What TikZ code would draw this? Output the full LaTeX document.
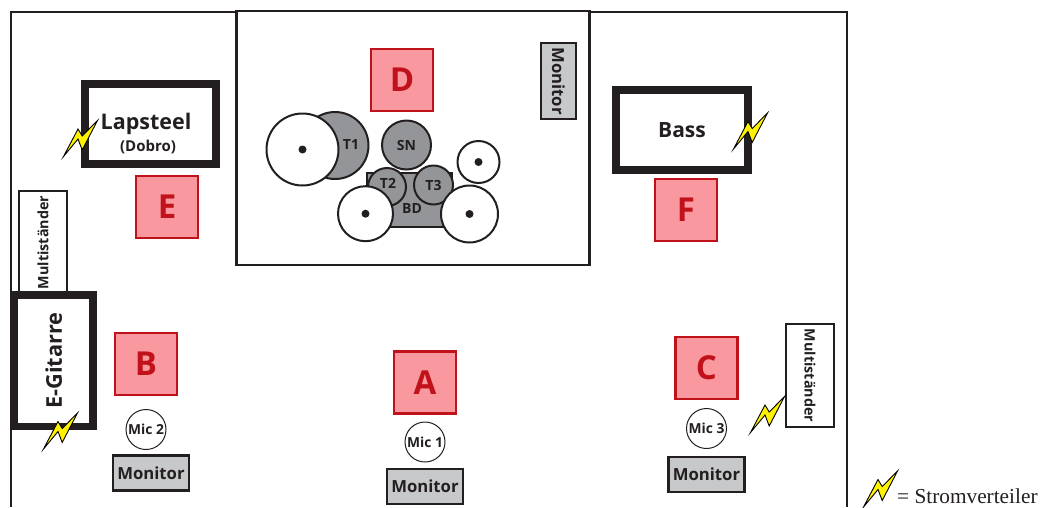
\documentclass[tikz,border=0pt]{standalone}
\usepackage{fontspec}
\setmainfont{Liberation Serif}
\setsansfont{Open Sans}
\usepackage{tikz}
\usetikzlibrary{positioning}
\definecolor{inkblack}{HTML}{231F20}
\definecolor{redfill}{HTML}{F9989F}
\definecolor{redline}{HTML}{C1121C}
\definecolor{drumgrey}{HTML}{939598}
\definecolor{mongrey}{HTML}{C7C8CA}
\definecolor{boltyellow}{HTML}{FFF200}
\newcommand{\sfb}[1]{\fontsize{#1}{#1}\selectfont\sffamily\bfseries}
\tikzset{person node/.style={rectangle,draw=redline,fill=redfill,line width=2.3pt,minimum size=62pt,inner sep=0pt,outer sep=0pt,text=redline,font=\sfb{33}},}
\tikzset{amp node/.style={rectangle,draw=inkblack,fill=white,line width=7.5pt,inner sep=0pt,outer sep=0pt,text=inkblack},}
\tikzset{stand node/.style={rectangle,draw=inkblack,fill=white,line width=2.2pt,minimum width=103pt,minimum height=48pt,inner sep=0pt,outer sep=0pt,text=inkblack,font=\sfb{14.3}},}
\tikzset{monitor node/.style={rectangle,draw=inkblack,fill=mongrey,line width=2.5pt,minimum width=76pt,minimum height=35pt,inner sep=0pt,outer sep=0pt,text=inkblack,font=\sfb{16.7}},}
\tikzset{mic node/.style={circle,draw=inkblack,fill=white,line width=1pt,minimum size=40pt,inner sep=0pt,outer sep=0pt,text=inkblack,font=\sfb{13.8}},}
\tikzset{drum node/.style={circle,draw=inkblack,fill=drumgrey,line width=2pt,inner sep=0pt,outer sep=0pt,text=inkblack,font=\sfb{14}},}
\tikzset{cymbal node/.style={circle,draw=inkblack,fill=white,line width=2pt,inner sep=0pt,outer sep=0pt},}
\tikzset{cymbal dot/.style={circle,fill=inkblack,minimum size=8pt,inner sep=0pt,outer sep=0pt},}
\tikzset{drum label/.style={inner sep=0pt,text=inkblack,font=\sfb{14}},}
\tikzset{bolt/.pic={\draw[fill=boltyellow,draw=black,line width=0.9pt,line join=miter] (0,0) -- (14.5,-27.5) -- (18.7,-20.5) -- (34,-36) -- (18.7,-6.5) -- (14.5,-17.5) -- cycle;}}

\begin{document}
\begin{tikzpicture}[x=1pt,y=-1pt]
	\useasboundingbox[fill=white] (0,0) rectangle (1044,507);
	% room and riser
	\draw[inkblack,line width=2pt] (10.5,507) -- (10.5,11.5) -- (847,11.5) -- (847,507);
	\draw[inkblack,fill=white,line width=2.5pt] (236.5,10.8) rectangle (589.5,265);

	% stands and amps
	\node[stand node, rotate=90] (standl) at (43,242.5) {Multiständer};
	\node[stand node, rotate=-90] (standr) at (810,375.5) {Multiständer};
	\node[amp node, minimum width=131pt, minimum height=80pt] (lapsteel) at (150.5,124) {};
	\node[drum label, font=\sfb{21.5}] (lapsteeltxt) at (146,124) {Lapsteel};
	\node[drum label, font=\sfb{15}] (dobro) at (148,147) {(Dobro)};
	\node[amp node, minimum width=132pt, minimum height=80pt, font=\sfb{21}] (bass) at (682,130) {Bass};
	\node[amp node, rotate=90, minimum width=131.5pt, minimum height=78.5pt, font=\sfb{21.7}] (egitarre) at (53.8,360.5) {E-Gitarre};

	% drum kit
	\node[drum node, minimum size=67pt] (t1) at (335,145.5) {};
	\node[drum label] (t1txt) at (351,144) {T1};
	\node[cymbal node, minimum size=72pt] (cyma) at (302.5,149.5) {};
	\node[cymbal dot] (cymadot) at (cyma) {};
	\node[drum node, minimum size=49pt] (sn) at (406.5,145) {SN};
	\draw[inkblack,fill=drumgrey,line width=2pt] (366.5,173) rectangle (451.5,226.5);
	\node[drum label] (bd) at (412,208) {BD};
	\node[drum node, minimum size=38pt] (t2) at (387,187) {};
	\node[drum label] (t2txt) at (388,183) {T2};
	\node[drum node, minimum size=39pt] (t3) at (433.5,185) {T3};
	\node[cymbal node, minimum size=42pt] (cymb) at (478.5,162) {};
	\node[cymbal dot] (cymbdot) at (cymb) {};
	\node[cymbal node, minimum size=55pt] (cymc) at (365.5,213.7) {};
	\node[cymbal dot] (cymcdot) at (cymc) {};
	\node[cymbal node, minimum size=57pt] (cymd) at (469.5,214) {};
	\node[cymbal dot] (cymddot) at (cymd) {};

	% players
	\node[person node] (a) at (425,382.5) {A};
	\node[person node] (b) at (146,364) {B};
	\node[person node] (c) at (706.5,368) {C};
	\node[person node] (d) at (402,80) {D};
	\node[person node] (e) at (167,207) {E};
	\node[person node] (f) at (686,210) {F};

	% mics and monitors
	\node[mic node] (mic1) at (425,442) {Mic 1};
	\node[mic node] (mic2) at (146,429.5) {Mic 2};
	\node[mic node] (mic3) at (706.5,428.5) {Mic 3};
	\node[monitor node] (mona) at (425,486.5) {Monitor};
	\node[monitor node] (monb) at (151,473) {Monitor};
	\node[monitor node] (monc) at (706.5,474.5) {Monitor};
	\node[monitor node, rotate=-90] (mond) at (558.5,81) {Monitor};

	% power
	\pic (boltlap) at (63.5,156.5) {bolt};
	\pic (boltgit) at (43.5,449) {bolt};
	\pic (boltbass) at (733.5,149) {bolt};
	\pic (boltstand) at (750.5,432.5) {bolt};
	\pic (boltkey) at (863.5,507) {bolt};
	\node[anchor=base west,inner sep=0pt,font=\fontsize{21.3}{21.3}\selectfont,text=inkblack] (legend) at (897,503) {= Stromverteiler};
\end{tikzpicture}
\end{document}
